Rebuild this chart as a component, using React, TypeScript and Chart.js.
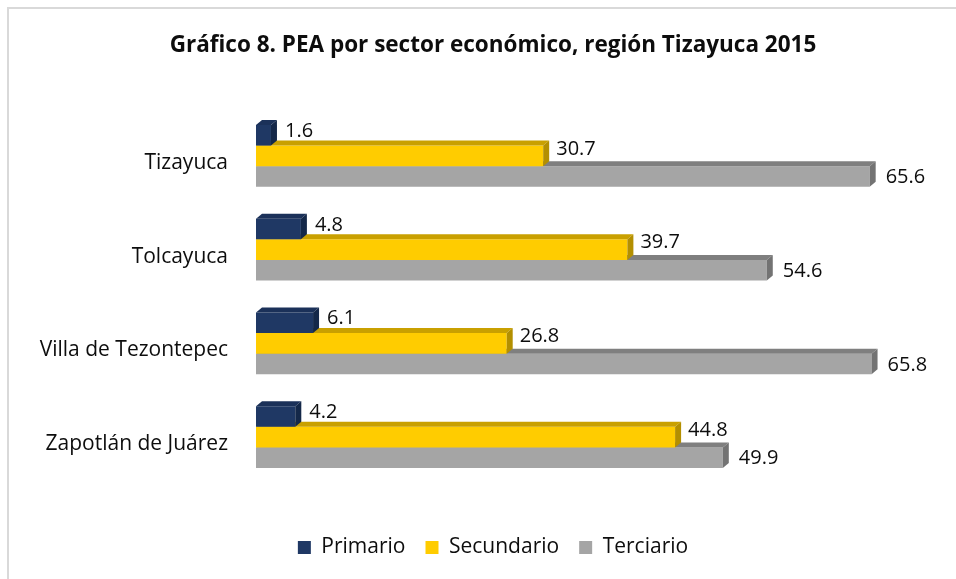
import React, { useEffect, useRef } from "react";
import { Chart, registerables } from "chart.js";

Chart.register(...registerables);

const categories = ["Tizayuca", "Tolcayuca", "Villa de Tezontepec", "Zapotlán de Juárez"];
const seriesNames = ["Primario", "Secundario", "Terciario"];
const primario = [1.6, 4.8, 6.1, 4.2];
const secundario = [30.7, 39.7, 26.8, 44.8];
const terciario = [65.6, 54.6, 65.8, 49.9];
const titleText = "Gráfico 8. PEA por sector económico, región Tizayuca 2015";

const frontColors = ["#1f3864", "#ffcc00", "#a5a5a5"];
const topColors = ["#1b3159", "#c9a000", "#7f7f7f"];
const sideColors = ["#142849", "#b38f00", "#737373"];
const labelDy = [-4, -7, 1];
const labelDx = [14, 13, 16];
const DEPTH_X = 6;
const DEPTH_Y = 5;
const FONT = "'Open Sans', sans-serif";

const bar3d = {
  id: "bar3d",
  beforeDraw(chart: any) {
    const ctx = chart.ctx;
    ctx.save();
    ctx.fillStyle = "#d9d9d9";
    ctx.fillRect(7, 7, chart.width, 2);
    ctx.fillRect(7, 7, 2, chart.height);
    ctx.restore();
  },
  afterDatasetDraw(chart: any, args: any) {
    const ctx = chart.ctx;
    const di = args.index;
    const meta = args.meta;
    ctx.save();
    meta.data.forEach((el: any) => {
      const { x, y, base, height } = el.getProps(["x", "y", "base", "height"], true);
      const top = y - height / 2;
      const bot = y + height / 2;
      ctx.fillStyle = topColors[di];
      ctx.beginPath();
      ctx.moveTo(base, top);
      ctx.lineTo(x, top);
      ctx.lineTo(x + DEPTH_X, top - DEPTH_Y);
      ctx.lineTo(base + DEPTH_X, top - DEPTH_Y);
      ctx.closePath();
      ctx.fill();
      ctx.fillStyle = sideColors[di];
      ctx.beginPath();
      ctx.moveTo(x, top);
      ctx.lineTo(x + DEPTH_X, top - DEPTH_Y);
      ctx.lineTo(x + DEPTH_X, bot - DEPTH_Y);
      ctx.lineTo(x, bot);
      ctx.closePath();
      ctx.fill();
    });
    ctx.restore();
  },
  afterDatasetsDraw(chart: any) {
    const ctx = chart.ctx;
    ctx.save();
    ctx.font = `20px ${FONT}`;
    ctx.fillStyle = "#0d0d0d";
    ctx.textAlign = "left";
    ctx.textBaseline = "middle";
    chart.data.datasets.forEach((ds: any, di: number) => {
      const meta = chart.getDatasetMeta(di);
      meta.data.forEach((el: any, i: number) => {
        const { x, y } = el.getProps(["x", "y"], true);
        ctx.fillText(ds.data[i].toFixed(1), x + labelDx[di], y + labelDy[di]);
      });
    });
    ctx.restore();
  },
};

export default function App() {
  const ref = useRef<HTMLCanvasElement | null>(null);
  useEffect(() => {
    if (!ref.current) return;
    const data = [primario, secundario, terciario];
    const chart = new Chart(ref.current, {
      type: "bar",
      data: {
        labels: categories,
        datasets: seriesNames.map((name, i) => ({
          label: name,
          data: data[i],
          backgroundColor: frontColors[i],
          borderWidth: 0,
          barPercentage: 1,
          categoryPercentage: 0.66,
        })),
      },
      options: {
        indexAxis: "y",
        responsive: false,
        animation: false,
        layout: { padding: { left: 34, right: 4, top: 0, bottom: 11 } },
        scales: {
          x: {
            min: 0,
            max: 74.4,
            display: true,
            grid: { display: false, drawTicks: false },
            border: { display: false },
            ticks: { display: false },
            afterFit: (s: any) => {
              s.height = 33;
            },
          },
          y: {
            grid: { display: false, drawTicks: false },
            border: { display: false },
            ticks: {
              padding: 28,
              labelOffset: 7,
              color: "#0d0d0d",
              font: { family: FONT, size: 21 },
            },
            afterFit: (s: any) => {
              s.width = 222;
            },
          },
        },
        plugins: {
          title: {
            display: true,
            text: titleText,
            color: "#0d0d0d",
            font: { family: FONT, size: 22.5, weight: "bold" },
            padding: { top: 32.5, bottom: 49.5 },
          },
          legend: {
            position: "bottom",
            labels: {
              boxWidth: 13,
              boxHeight: 13,
              padding: 20,
              color: "#0d0d0d",
              font: { family: FONT, size: 21 },
            },
          },
          tooltip: { enabled: false },
        },
      },
      plugins: [bar3d],
    });
    return () => chart.destroy();
  }, []);
  return (
    <div style={{ position: "fixed", left: 0, top: 0, width: 956, height: 579, background: "#fff" }}>
      <canvas ref={ref} width={956} height={579} style={{ display: "block" }} />
    </div>
  );
}
